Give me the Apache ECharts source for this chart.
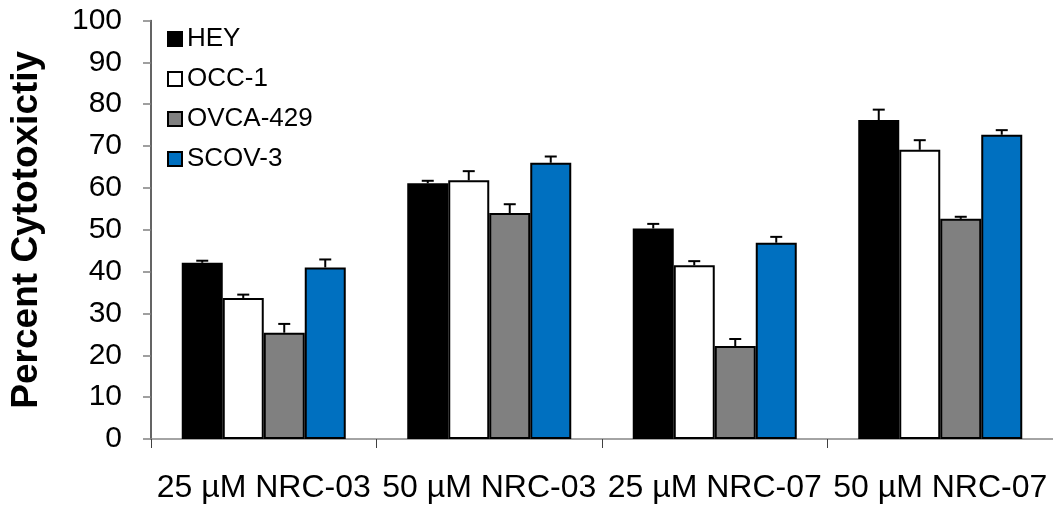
<!DOCTYPE html>
<html>
<head>
<meta charset="utf-8">
<script src="https://cdn.jsdelivr.net/npm/echarts@6/dist/echarts.min.js"></script>
<style>
html,body{margin:0;padding:0;background:#fff;}
#chart{width:1053px;height:508px;}
</style>
</head>
<body>
<div id="chart"></div>
<script>
const categories = ['25 µM NRC-03', '50 µM NRC-03', '25 µM NRC-07', '50 µM NRC-07'];
const seriesNames = ['HEY', 'OCC-1', 'OVCA-429', 'SCOV-3'];
const hey = [42.1, 61.1, 50.3, 76.2];
const heyErr = [0.5, 0.6, 1.1, 2.5];
const occ1 = [33.7, 61.8, 41.5, 69.1];
const occ1Err = [0.8, 2.2, 1.0, 2.3];
const ovca429 = [25.4, 54.0, 22.2, 52.6];
const ovca429Err = [2.1, 2.1, 1.7, 0.5];
const scov3 = [41.0, 66.0, 46.9, 72.7];
const scov3Err = [1.9, 1.5, 1.4, 1.1];
const yTicks = [0, 10, 20, 30, 40, 50, 60, 70, 80, 90, 100];

const values = [hey, occ1, ovca429, scov3];
const errors = [heyErr, occ1Err, ovca429Err, scov3Err];
const colors = ['#000000', '#ffffff', '#808080', '#0070C0'];
const FONT = '"Liberation Sans", Arial, sans-serif';
const BAR_W = 41;

const chart = echarts.init(document.getElementById('chart'), null, {renderer: 'canvas'});

const series = [];
values.forEach((vals, i) => {
  series.push({
    name: seriesNames[i],
    type: 'bar',
    data: vals,
    barWidth: BAR_W,
    barGap: '0%',
    itemStyle: {color: colors[i], borderColor: '#000', borderWidth: 2},
    z: 2
  });
});
values.forEach((vals, i) => {
  const offset = (i - 1.5) * BAR_W;
  series.push({
    name: seriesNames[i] + ' err',
    type: 'custom',
    z: 5,
    silent: true,
    data: vals.map((v, k) => [k, v, errors[i][k]]),
    renderItem: function (params, api) {
      const x = api.coord([api.value(0), 0])[0] + offset;
      const yv = api.coord([api.value(0), api.value(1)])[1];
      const ye = api.coord([api.value(0), api.value(1) + api.value(2)])[1];
      const style = {stroke: '#000', lineWidth: 2, fill: null};
      return {
        type: 'group',
        children: [
          {type: 'line', shape: {x1: x, y1: yv, x2: x, y2: ye}, style: style},
          {type: 'line', shape: {x1: x - 6, y1: ye, x2: x + 6, y2: ye}, style: style}
        ]
      };
    }
  });
});

chart.setOption({
  animation: false,
  backgroundColor: '#ffffff',
  grid: {left: 147.5, right: 0, top: 20.5, bottom: 69, containLabel: false},
  legend: {
    data: seriesNames,
    orient: 'vertical',
    left: 162,
    top: 21,
    itemWidth: 14,
    itemHeight: 14,
    itemGap: 14,
    icon: 'rect',
    itemStyle: {borderColor: '#000', borderWidth: 2},
    textStyle: {fontFamily: FONT, fontSize: 26, color: '#000', lineHeight: 26, padding: [0, 0, 0, 0]}
  },
  xAxis: {
    type: 'category',
    data: categories,
    axisLine: {lineStyle: {color: '#868686', width: 1.5}},
    axisTick: {show: true, length: 9, lineStyle: {color: '#404040', width: 1}},
    axisLabel: {fontFamily: FONT, fontSize: 32, color: '#000', margin: 33, interval: 0}
  },
  yAxis: {
    type: 'value',
    min: yTicks[0],
    max: yTicks[yTicks.length - 1],
    interval: 10,
    name: 'Percent Cytotoxictiy',
    nameLocation: 'middle',
    nameGap: 106,
    nameRotate: 90,
    nameTextStyle: {fontFamily: FONT, fontSize: 37, fontWeight: 'bold', color: '#000'},
    splitLine: {show: false},
    axisLine: {show: true, lineStyle: {color: '#303030', width: 1.5}},
    axisTick: {show: true, length: 8, lineStyle: {color: '#808080', width: 1.5}},
    axisLabel: {fontFamily: FONT, fontSize: 30, color: '#000', margin: 29}
  },
  series: series
});
</script>
</body>
</html>
